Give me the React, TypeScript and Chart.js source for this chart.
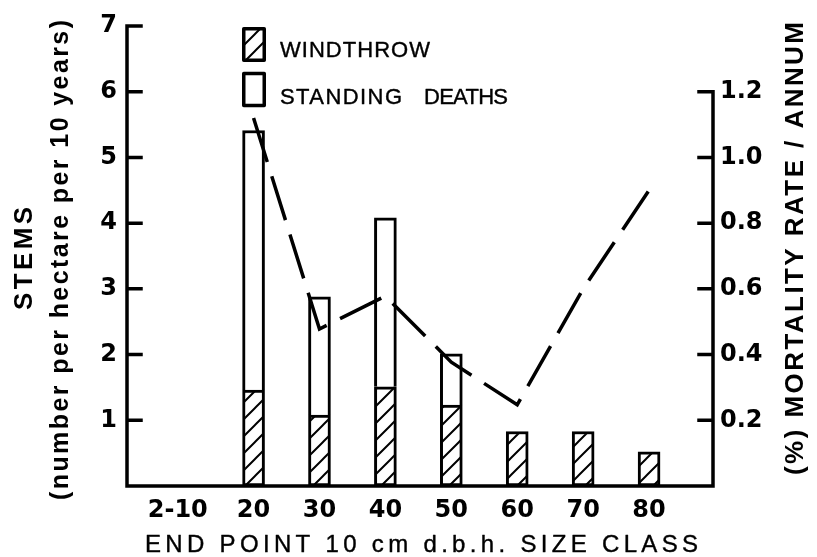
import React, { useEffect, useRef } from 'react';
import { Chart, registerables } from 'chart.js';

Chart.register(...registerables);

// ---- data ----
const sizeClassLabels = ['2-10', '20', '30', '40', '50', '60', '70', '80'];
const sizeClassPositions = [8.5, 20, 30, 40, 50, 60, 70, 80];
const windthrow = [null, 1.46, 1.08, 1.51, 1.23, 0.83, 0.83, 0.52];
const standingDeaths = [null, 3.95, 1.8, 2.57, 0.78, null, null, null];
const mortalityRate = [null, 1.12, 0.478, 0.578, 0.377, 0.247, 0.6, 0.9];
const leftTicks = [1, 2, 3, 4, 5, 6, 7];
const rightTicks = [0.2, 0.4, 0.6, 0.8, 1.0, 1.2];

const legendLabels = ['WINDTHROW', 'STANDING', 'DEATHS'];
const xTitle = 'END POINT 10 cm d.b.h. SIZE CLASS';
const leftTitle1 = 'STEMS';
const leftTitle2 = '(number per hectare per 10 years)';
const rightTitle = '(%) MORTALITY RATE / ANNUM';

function makeHatch(ctx: CanvasRenderingContext2D) {
  const s = 17;
  const c = document.createElement('canvas');
  c.width = s;
  c.height = s;
  const g = c.getContext('2d')!;
  g.fillStyle = '#fff';
  g.fillRect(0, 0, s, s);
  g.strokeStyle = '#000';
  g.lineWidth = 2;
  g.beginPath();
  g.moveTo(0, s);
  g.lineTo(s, 0);
  g.moveTo(-s / 2, s / 2);
  g.lineTo(s / 2, -s / 2);
  g.moveTo(s / 2, s * 1.5);
  g.lineTo(s * 1.5, s / 2);
  g.stroke();
  return ctx.createPattern(c, 'repeat')!;
}

function fitText(
  ctx: CanvasRenderingContext2D,
  text: string,
  x0: number,
  x1: number,
  baseline: number,
  font: string,
  thicken = 0
) {
  ctx.save();
  ctx.font = font;
  (ctx as any).letterSpacing = '0px';
  const w0 = ctx.measureText(text).width;
  const n = Array.from(text).length;
  const sp = n > 1 ? (x1 - x0 - w0) / (n - 1) : 0;
  (ctx as any).letterSpacing = sp + 'px';
  ctx.textAlign = 'left';
  ctx.textBaseline = 'alphabetic';
  ctx.fillStyle = '#000';
  ctx.fillText(text, x0, baseline);
  if (thicken > 0) {
    ctx.strokeStyle = '#000';
    ctx.lineWidth = thicken;
    ctx.lineJoin = 'round';
    ctx.strokeText(text, x0, baseline);
  }
  ctx.restore();
}

function fitTextVertical(
  ctx: CanvasRenderingContext2D,
  text: string,
  yBottom: number,
  yTop: number,
  baselineX: number,
  font: string
) {
  ctx.save();
  ctx.translate(baselineX, yBottom);
  ctx.rotate(-Math.PI / 2);
  fitText(ctx, text, 0, yBottom - yTop, 0, font);
  ctx.restore();
}

const framePlugin = {
  id: 'frameAndText',
  afterDraw(chart: any) {
    const { ctx, chartArea: a, scales } = chart;
    const y = scales.y;
    const y1 = scales.y1;
    ctx.save();
    ctx.strokeStyle = '#000';
    ctx.lineWidth = 3.5;
    ctx.lineCap = 'square';
    ctx.beginPath();
    ctx.moveTo(a.left, a.bottom);
    ctx.lineTo(a.right, a.bottom);
    const lTop = y.getPixelForValue(leftTicks[leftTicks.length - 1]);
    ctx.moveTo(a.left, a.bottom);
    ctx.lineTo(a.left, lTop);
    leftTicks.forEach((v) => {
      const p = y.getPixelForValue(v);
      ctx.moveTo(a.left, p);
      ctx.lineTo(a.left + 14, p);
    });
    const rTop = y1.getPixelForValue(rightTicks[rightTicks.length - 1]);
    ctx.moveTo(a.right, a.bottom);
    ctx.lineTo(a.right, rTop);
    rightTicks.forEach((v) => {
      const p = y1.getPixelForValue(v);
      ctx.moveTo(a.right, p);
      ctx.lineTo(a.right - 14, p);
    });
    ctx.stroke();

    // legend
    const hatch = chart.$hatch;
    ctx.lineWidth = 3.5;
    ctx.lineCap = 'butt';
    ctx.lineJoin = 'round';
    ctx.fillStyle = hatch;
    ctx.fillRect(243.75, 28.75, 20.5, 31.5);
    ctx.strokeRect(243.75, 28.75, 20.5, 31.5);
    ctx.fillStyle = '#fff';
    ctx.fillRect(243.75, 73.5, 20.5, 32);
    ctx.strokeRect(243.75, 73.5, 20.5, 32);
    ctx.restore();

    const legendFont = '22px "Liberation Sans", Arial';
    fitText(ctx, legendLabels[0], 280, 430, 57, legendFont, 0.4);
    fitText(ctx, legendLabels[1], 280, 402, 104, legendFont, 0.4);
    fitText(ctx, legendLabels[2], 424, 508, 104, legendFont, 0.4);

    // axis titles
    fitText(ctx, xTitle, 145, 698, 552, '24px "Liberation Sans", Arial', 0.4);
    fitTextVertical(ctx, leftTitle1, 310, 207, 32, 'bold 26px "Liberation Sans", Arial');
    fitTextVertical(ctx, leftTitle2, 500, 20, 68, 'bold 25px "Liberation Sans", Arial');
    fitTextVertical(ctx, rightTitle, 475, 22, 803, 'bold 26px "Liberation Sans", Arial');
  },
};

export default function App() {
  const ref = useRef<HTMLCanvasElement>(null);
  useEffect(() => {
    const canvas = ref.current!;
    const ctx = canvas.getContext('2d')!;
    const hatch = makeHatch(ctx);
    const tickFont = { family: 'DejaVu Sans', weight: 'bold' as const, size: 24 };
    const chart: any = new Chart(canvas, {
      type: 'bar',
      data: {
        datasets: [
          {
            type: 'line',
            label: 'Mortality rate',
            yAxisID: 'y1',
            data: sizeClassPositions.map((x, i) => ({ x, y: mortalityRate[i] })) as any,
            borderColor: '#000',
            borderWidth: 3.5,
            borderDash: [46, 15],
            borderCapStyle: 'butt',
            borderJoinStyle: 'miter',
            pointRadius: 0,
            fill: false,
            tension: 0,
            spanGaps: false,
            order: 0,
          } as any,
          {
            label: 'Windthrow',
            yAxisID: 'y',
            data: sizeClassPositions.map((x, i) => ({ x, y: windthrow[i] })) as any,
            backgroundColor: hatch as any,
            borderColor: '#000',
            borderWidth: 3,
            borderSkipped: false,
            barThickness: 22,
            stack: 's',
            order: 1,
          },
          {
            label: 'Standing deaths',
            yAxisID: 'y',
            data: sizeClassPositions.map((x, i) => ({ x, y: standingDeaths[i] })) as any,
            backgroundColor: '#fff',
            borderColor: '#000',
            borderWidth: 3,
            borderSkipped: 'bottom',
            barThickness: 22,
            stack: 's',
            order: 2,
          },
        ],
      },
      options: {
        responsive: false,
        animation: false,
        devicePixelRatio: 1,
        layout: { padding: { top: 26, left: 0, right: 0, bottom: 0 } },
        plugins: { legend: { display: false }, tooltip: { enabled: false } },
        scales: {
          x: {
            type: 'linear',
            min: 0.8,
            max: 89.7,
            offset: false,
            stacked: true,
            grid: { display: false, drawTicks: false, offset: false },
            border: { display: false },
            afterBuildTicks: (scale: any) => {
              scale.ticks = sizeClassPositions.map((v) => ({ value: v }));
            },
            afterFit: (scale: any) => {
              scale.height = 71;
            },
            ticks: {
              autoSkip: false,
              maxRotation: 0,
              padding: 10,
              color: '#000',
              font: tickFont,
              callback: (v: any) => {
                const i = sizeClassPositions.indexOf(Number(v));
                return i >= 0 ? sizeClassLabels[i] : '';
              },
            },
          },
          y: {
            type: 'linear',
            position: 'left',
            min: 0,
            max: 7,
            stacked: true,
            grid: { display: false, drawTicks: false },
            border: { display: false },
            afterFit: (scale: any) => {
              scale.width = 127;
            },
            afterBuildTicks: (scale: any) => {
              scale.ticks = leftTicks.map((v) => ({ value: v }));
            },
            ticks: {
              padding: 10,
              color: '#000',
              font: tickFont,
              callback: (v: any) => String(v),
            },
          },
          y1: {
            type: 'linear',
            position: 'right',
            min: 0,
            max: 1.4,
            grid: { display: false, drawTicks: false },
            border: { display: false },
            afterFit: (scale: any) => {
              scale.width = 104;
            },
            afterBuildTicks: (scale: any) => {
              scale.ticks = rightTicks.map((v) => ({ value: v }));
            },
            ticks: {
              padding: 7,
              color: '#000',
              font: tickFont,
              callback: (v: any) => Number(v).toFixed(1),
            },
          },
        },
      },
      plugins: [framePlugin],
    });
    chart.$hatch = hatch;
    chart.draw();
    return () => chart.destroy();
  }, []);
  return (
    <div style={{ position: 'fixed', left: 0, top: 0, width: 817, height: 557, background: '#fff' }}>
      <canvas ref={ref} width={817} height={557} style={{ display: 'block', width: 817, height: 557 }} />
    </div>
  );
}
